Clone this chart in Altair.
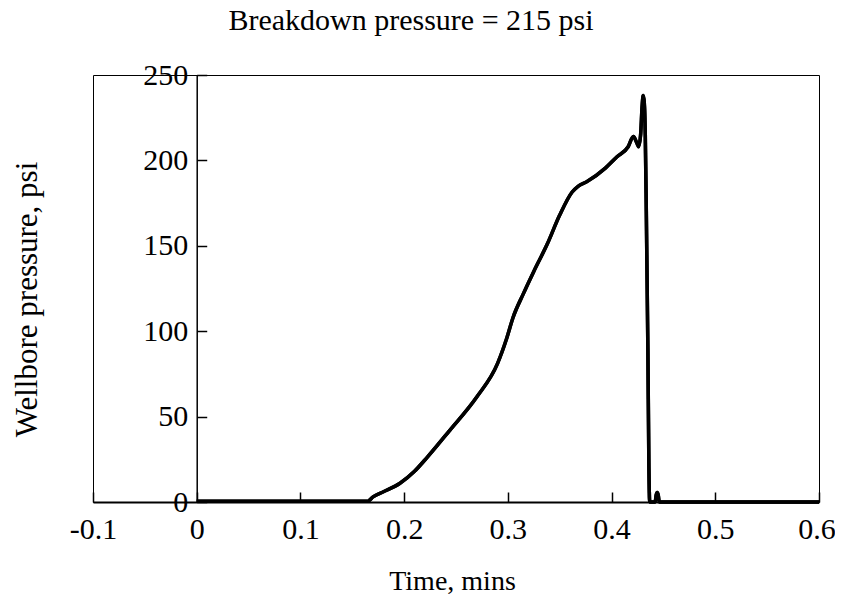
import altair as alt
import pandas as pd

# ---- data ----
time_min = [0.0, 0.165, 0.17, 0.18, 0.196, 0.21, 0.222, 0.244, 0.27, 0.29,
            0.299, 0.305, 0.315, 0.325, 0.338, 0.350, 0.362, 0.368, 0.376, 0.394,
            0.405, 0.416, 0.421, 0.4245, 0.426, 0.428, 0.4295, 0.4305, 0.4315, 0.4325,
            0.4335, 0.435, 0.436, 0.4368, 0.44, 0.442, 0.443, 0.444, 0.445, 0.446,
            0.45, 0.5, 0.55, 0.6]
pressure_psi = [0.5, 0.5, 3, 6, 11, 18, 26, 42, 61.5, 81,
                96, 108, 122, 135, 151, 168, 181.5, 185, 187.5, 195.5,
                202, 208, 214, 210, 208, 215, 232, 238, 234, 215,
                170, 90, 20, 0, 0, 0, 4, 5.5, 4, 0,
                0, 0, 0, 0]
x_ticks = [-0.1, 0.0, 0.1, 0.2, 0.3, 0.4, 0.5, 0.6]
y_ticks = [0, 50, 100, 150, 200, 250]
chart_title = "Breakdown pressure = 215 psi"
x_title = "Time, mins"
y_title = "Wellbore pressure, psi"

df = pd.DataFrame({"t": time_min, "p": pressure_psi})

W, H = 726, 427
FONT = "Liberation Serif"
x_scale = alt.Scale(domain=[-0.1, 0.6], nice=False, zero=False)
y_scale = alt.Scale(domain=[0, 250], nice=False)
y_axis_px = W * 0.1 / 0.7  # pixel position of x = 0

lbl_expr = "(datum.value < 0 ? '-' : '') + format(abs(datum.value), '.1~f')"

base = alt.Chart(df)
line_kw = dict(color="black", strokeWidth=3.5, interpolate="monotone")

main = base.mark_line(**line_kw).encode(
    x=alt.X("t:Q", scale=x_scale, axis=alt.Axis(
        orient="bottom", values=x_ticks, ticks=False, tickSize=0, labelExpr=lbl_expr,
        labelFont=FONT, labelFontSize=30, labelColor="black", labelPadding=12,
        labelOffset={"condition": {"test": "datum.value > 0.59", "value": -2.5}, "value": 0},
        labelFlush=False, labelOverlap=False,
        domainColor="black", domainWidth=2, grid=False,
        title=x_title, titleFont=FONT, titleFontSize=28, titleFontWeight="normal",
        titleColor="black", titleX=359, titleY=87, titleBaseline="alphabetic")),
    y=alt.Y("p:Q", scale=y_scale, axis=alt.Axis(
        orient="left", offset=-y_axis_px, values=y_ticks, ticks=False, tickSize=0,
        labelFont=FONT, labelFontSize=30, labelColor="black", labelPadding=9,
        labelFlush=False, labelOverlap=False,
        domainColor="black", domainWidth=1.5, grid=False,
        title=y_title, titleFont=FONT, titleFontSize=31, titleFontWeight="normal",
        titleColor="black", titleX=36 - 103.7 - 93, titleY=224, titleBaseline="alphabetic")),
)

tick_layer = base.mark_line(**line_kw).encode(
    x=alt.X("t:Q", scale=x_scale, axis=alt.Axis(
        orient="top", offset=-H, values=x_ticks, ticks=True, tickSize=10,
        tickWidth=1.5, tickColor="black", labels=False, domain=False, grid=False,
        title="")),
    y=alt.Y("p:Q", scale=y_scale, axis=alt.Axis(
        orient="right", offset=-(W - y_axis_px), values=y_ticks, ticks=True, tickSize=10,
        tickWidth=1.5, tickColor="black", labels=False, domain=False, grid=False,
        title="")),
)

chart = alt.layer(main, tick_layer).resolve_axis(
    x="independent", y="independent"
).properties(
    width=W, height=H,
    title=alt.TitleParams(chart_title, font=FONT, fontSize=30, fontWeight="normal",
                          color="black", anchor="middle", baseline="alphabetic",
                          offset=0, dx=-45),
    padding={"left": 85, "top": 67, "right": 16, "bottom": 92},
    autosize=alt.AutoSizeParams(type="none"),
).configure_view(stroke="black", strokeWidth=1)

chart.save("out.html", embed_options={"renderer": "svg", "actions": False})
